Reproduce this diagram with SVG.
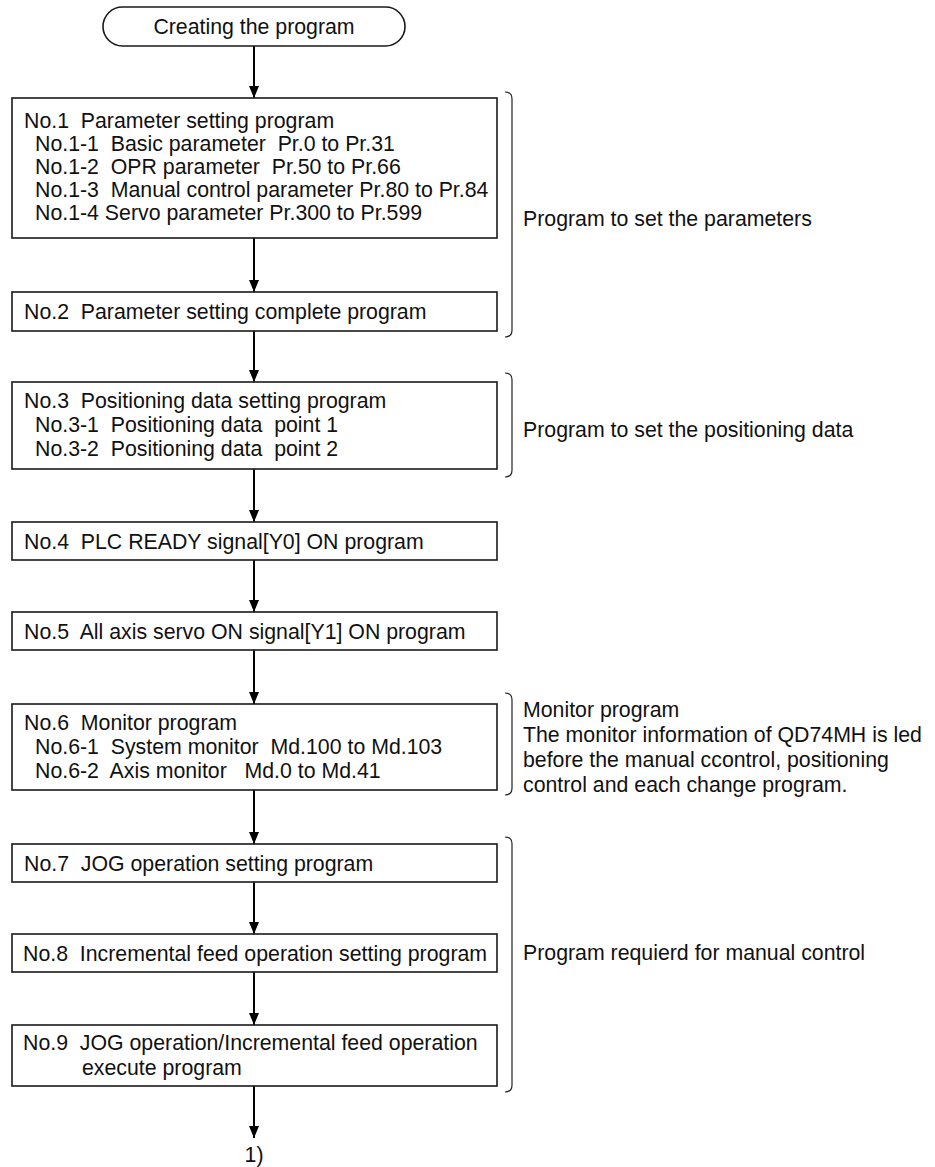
<svg xmlns="http://www.w3.org/2000/svg" width="935" height="1167" viewBox="0 0 935 1167" xml:space="preserve">
<style>
  text { font-family: "Liberation Sans", Arial, sans-serif; font-size: 21.3px; fill: #111; white-space: pre; }
  .box { fill: #fff; stroke: #1a1a1a; stroke-width: 1.6; }
  .conn { stroke: #000; stroke-width: 2; fill: none; marker-end: url(#ah); }
  .brace { stroke: #222; stroke-width: 1.2; fill: none; }
</style>
<defs>
  <marker id="ah" viewBox="0 0 12 10" refX="12" refY="5" markerWidth="12" markerHeight="10" orient="auto" markerUnits="userSpaceOnUse">
    <path d="M0,0 L12,5 L0,10 z" fill="#000"/>
  </marker>
</defs>
<rect width="935" height="1167" fill="#fff"/>

<g id="connectors">
  <line class="conn" x1="254" y1="46" x2="254" y2="98"/>
  <line class="conn" x1="254" y1="238" x2="254" y2="292"/>
  <line class="conn" x1="254" y1="331" x2="254" y2="382"/>
  <line class="conn" x1="254" y1="469" x2="254" y2="522"/>
  <line class="conn" x1="254" y1="560" x2="254" y2="612"/>
  <line class="conn" x1="254" y1="650" x2="254" y2="704"/>
  <line class="conn" x1="254" y1="790" x2="254" y2="844"/>
  <line class="conn" x1="254" y1="882" x2="254" y2="934"/>
  <line class="conn" x1="254" y1="972" x2="254" y2="1025"/>
  <line class="conn" x1="254" y1="1086" x2="254" y2="1138"/>
</g>

<g id="start">
  <rect class="box" x="103" y="7" width="302" height="39" rx="19.5" ry="19.5"/>
  <text x="254" y="34" text-anchor="middle">Creating the program</text>
</g>

<g id="no1">
  <rect class="box" x="12" y="98" width="485" height="140"/>
  <text x="24" y="128">No.1  Parameter setting program</text>
  <text x="35" y="151">No.1-1  Basic parameter  Pr.0 to Pr.31</text>
  <text x="35" y="174">No.1-2  OPR parameter  Pr.50 to Pr.66</text>
  <text x="35" y="197">No.1-3  Manual control parameter Pr.80 to Pr.84</text>
  <text x="35" y="220">No.1-4 Servo parameter Pr.300 to Pr.599</text>
</g>

<g id="no2">
  <rect class="box" x="12" y="292" width="485" height="39"/>
  <text x="24" y="318.5">No.2  Parameter setting complete program</text>
</g>

<g id="no3">
  <rect class="box" x="12" y="382" width="485" height="87"/>
  <text x="24" y="408">No.3  Positioning data setting program</text>
  <text x="35" y="432">No.3-1  Positioning data  point 1</text>
  <text x="35" y="456">No.3-2  Positioning data  point 2</text>
</g>

<g id="no4">
  <rect class="box" x="12" y="522" width="485" height="38"/>
  <text x="24" y="549">No.4  PLC READY signal[Y0] ON program</text>
</g>

<g id="no5">
  <rect class="box" x="12" y="612" width="485" height="38"/>
  <text x="24" y="639">No.5  All axis servo ON signal[Y1] ON program</text>
</g>

<g id="no6">
  <rect class="box" x="12" y="704" width="485" height="86"/>
  <text x="24" y="730">No.6  Monitor program</text>
  <text x="35" y="754">No.6-1  System monitor  Md.100 to Md.103</text>
  <text x="35" y="778">No.6-2  Axis monitor   Md.0 to Md.41</text>
</g>

<g id="no7">
  <rect class="box" x="12" y="844" width="485" height="38"/>
  <text x="24" y="871">No.7  JOG operation setting program</text>
</g>

<g id="no8">
  <rect class="box" x="12" y="934" width="485" height="38"/>
  <text x="23" y="961">No.8  Incremental feed operation setting program</text>
</g>

<g id="no9">
  <rect class="box" x="12" y="1025" width="485" height="61"/>
  <text x="23" y="1050">No.9  JOG operation/Incremental feed operation</text>
  <text x="82" y="1075">execute program</text>
</g>

<g id="end">
  <text x="254" y="1162" text-anchor="middle">1)</text>
</g>

<g id="brace-params">
  <path class="brace" d="M505,92 Q512,92 512,99 V330 Q512,337 505,337"/>
  <text x="523" y="226">Program to set the parameters</text>
</g>

<g id="brace-positioning">
  <path class="brace" d="M505,373 Q512,373 512,380 V470 Q512,477 505,477"/>
  <text x="523" y="437">Program to set the positioning data</text>
</g>

<g id="brace-monitor">
  <path class="brace" d="M505,693 Q512,693 512,700 V788 Q512,795 505,795"/>
  <text x="523" y="717">Monitor program</text>
  <text x="523" y="742">The monitor information of QD74MH is led</text>
  <text x="523" y="767">before the manual ccontrol, positioning</text>
  <text x="523" y="792">control and each change program.</text>
</g>

<g id="brace-manual">
  <path class="brace" d="M505,837 Q512,837 512,844 V1085 Q512,1092 505,1092"/>
  <text x="523" y="960">Program requierd for manual control</text>
</g>
</svg>
